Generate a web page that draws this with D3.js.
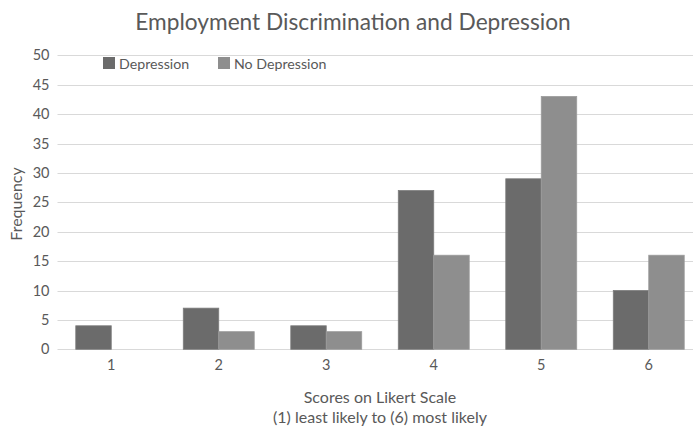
<!DOCTYPE html>
<html>
<head>
<meta charset="utf-8">
<script src="https://cdn.jsdelivr.net/npm/d3@7"></script>
<style>
  html, body { margin: 0; padding: 0; background: #fff; }
  svg { display: block; font-family: Lato, "Open Sans", sans-serif; }
</style>
</head>
<body>
<svg id="chart" width="693" height="429"></svg>
<script>
// Likert scores and frequencies per group
const categories = ["1", "2", "3", "4", "5", "6"];
const seriesNames = ["Depression", "No Depression"];
const depression = [4, 7, 4, 27, 29, 10];
const noDepression = [0, 3, 3, 16, 43, 16];
const yTicks = [0, 5, 10, 15, 20, 25, 30, 35, 40, 45, 50];

const colors = { "Depression": "#6b6b6b", "No Depression": "#8e8e8e" };
const strokes = { "Depression": "#7d7d7d", "No Depression": "#9c9c9c" };
const textColor = "#595959";
const fontStack = "Lato, 'Open Sans', sans-serif";

const svg = d3.select("#chart");

// plot frame (right side runs past the visible edge)
const plotLeft = 57.5, plotRight = 702.5, plotTop = 55.3, plotBottom = 349.3;

const x = d3.scaleBand()
  .domain(categories)
  .range([plotLeft, plotRight])
  .paddingInner(0.34)
  .paddingOuter(0.17);

const xSub = d3.scaleBand()
  .domain(seriesNames)
  .range([0, x.bandwidth()]);

const y = d3.scaleLinear().domain([0, 50]).range([plotBottom, plotTop]);

// horizontal gridlines
svg.append("g")
  .selectAll("line")
  .data(yTicks)
  .join("line")
  .attr("x1", plotLeft)
  .attr("x2", plotRight)
  .attr("y1", d => Math.round(y(d)) + 0.5)
  .attr("y2", d => Math.round(y(d)) + 0.5)
  .attr("stroke", "#d9d9d9")
  .attr("stroke-width", 1);

// y axis labels
const yAxis = d3.axisLeft(y).tickValues(yTicks).tickSize(0).tickPadding(0);
const gy = svg.append("g").attr("transform", `translate(${plotLeft - 8},0)`).call(yAxis);
gy.select(".domain").remove();
gy.selectAll("text")
  .attr("fill", textColor)
  .style("font-size", "14.5px")
  .style("font-family", fontStack);

// x axis labels
const xAxis = d3.axisBottom(x).tickSize(0).tickPadding(0);
const gx = svg.append("g").attr("transform", `translate(0,${plotBottom + 10})`).call(xAxis);
gx.select(".domain").remove();
gx.selectAll("text")
  .attr("fill", textColor)
  .style("font-size", "14.5px")
  .style("font-family", fontStack);

// grouped bars
const rows = categories.map((c, i) => ({
  cat: c,
  values: [
    { key: "Depression", value: depression[i] },
    { key: "No Depression", value: noDepression[i] }
  ]
}));

svg.append("g")
  .selectAll("g")
  .data(rows)
  .join("g")
  .attr("transform", d => `translate(${x(d.cat)},0)`)
  .selectAll("rect")
  .data(d => d.values.filter(v => v.value > 0))
  .join("rect")
  .attr("x", d => xSub(d.key))
  .attr("y", d => y(d.value))
  .attr("width", xSub.bandwidth())
  .attr("height", d => y(0) - y(d.value))
  .attr("fill", d => colors[d.key])
  .attr("stroke", d => strokes[d.key])
  .attr("stroke-width", 0.8);

// title
svg.append("text")
  .attr("x", 353)
  .attr("y", 30)
  .attr("text-anchor", "middle")
  .attr("fill", textColor)
  .style("font-size", "22.7px")
  .text("Employment Discrimination and Depression");

// legend
const legend = svg.append("g").attr("transform", "translate(103,57)");
const legendX = [0, 115];
seriesNames.forEach((name, i) => {
  const g = legend.append("g").attr("transform", `translate(${legendX[i]},0)`);
  g.append("rect")
    .attr("width", 12).attr("height", 12)
    .attr("fill", colors[name]);
  g.append("text")
    .attr("x", 16).attr("y", 11.5)
    .attr("fill", textColor)
    .style("font-size", "14.2px")
    .text(name);
});

// y axis title
svg.append("text")
  .attr("transform", "translate(22,204) rotate(-90)")
  .attr("text-anchor", "middle")
  .attr("fill", textColor)
  .style("font-size", "16px")
  .text("Frequency");

// x axis title
const midX = (plotLeft + plotRight) / 2;
const xTitle = svg.append("text")
  .attr("text-anchor", "middle")
  .attr("fill", textColor)
  .style("font-size", "16px");
xTitle.append("tspan").attr("x", midX).attr("y", 403).text("Scores on Likert Scale");
xTitle.append("tspan").attr("x", midX).attr("y", 423).text("(1) least likely to (6) most likely");
</script>
</body>
</html>
